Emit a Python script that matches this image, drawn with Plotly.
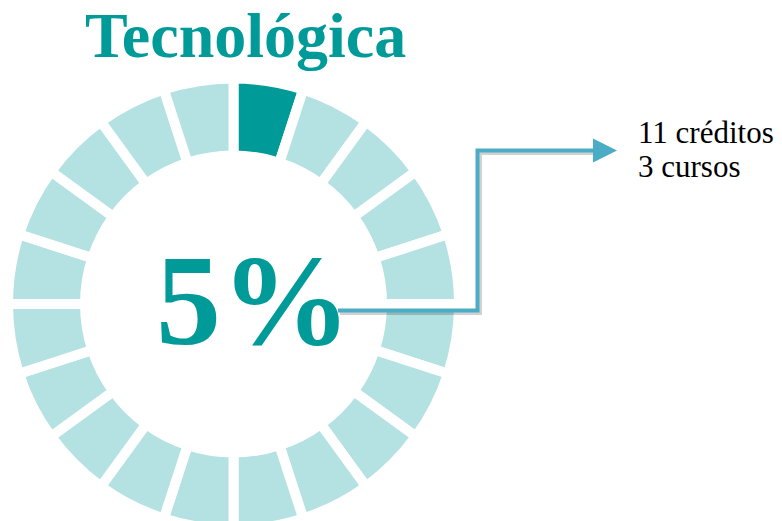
import plotly.graph_objects as go

# ---- data ----
title_text = "Tecnológica"
share_pct = 5            # highlighted share (percent)
n_segments = 20          # ring divided in 5% blocks
credits = 11
courses = 3
label_lines = [f"{credits} créditos", f"{courses} cursos"]

dark = "#009A99"
light = "#B4E1E1"
arrow_col = "#4BACC6"

seg_values = [100 / n_segments] * n_segments
n_dark = round(share_pct / (100 / n_segments))
seg_colors = [dark] * n_dark + [light] * (n_segments - n_dark)

W, H = 782, 530            # page shows top 521 px; ring runs off the bottom
cx, cy = 233.5, 304.0      # ring centre (px from top-left)
r = 225.5

fig = go.Figure()
fig.add_trace(go.Pie(
    values=seg_values,
    sort=False,
    direction="clockwise",
    rotation=0,
    hole=148.5 / r,
    marker=dict(colors=seg_colors, line=dict(color="white", width=10)),
    textinfo="none",
    hoverinfo="skip",
    showlegend=False,
    domain=dict(x=[(cx - r) / W, (cx + r) / W],
                y=[max(0, (H - cy - r) / H), min(1, (H - cy + r) / H)]),
))

# invisible pixel-space axes for decorations
fig.update_xaxes(range=[0, W], visible=False, fixedrange=True)
fig.update_yaxes(range=[H, 0], visible=False, fixedrange=True)

# connector (shadow + line)
fig.add_shape(type="path", path="M 340 313 L 480 313 L 480 153 L 600 153",
              xref="x", yref="y", line=dict(color="rgba(0,0,0,0.18)", width=4))
fig.add_shape(type="path", path="M 338 310.5 L 477.5 310.5 L 477.5 150.5 L 600 150.5",
              xref="x", yref="y", line=dict(color=arrow_col, width=4))
fig.add_annotation(x=617, y=150.5, ax=598, ay=150.5, xref="x", yref="y",
                   axref="x", ayref="y", text="", showarrow=True,
                   arrowhead=2, arrowsize=1.2, arrowwidth=4, arrowcolor=arrow_col)

fig.add_annotation(x=245, y=35, xref="x", yref="y", text=f"<b>{title_text}</b>",
                   showarrow=False, font=dict(family="Liberation Serif", size=64, color=dark))
fig.add_annotation(x=253, y=300, xref="x", yref="y", text=f"<b>{share_pct}%</b>",
                   showarrow=False, font=dict(family="Liberation Serif", size=130, color=dark))
for txt, yy in zip(label_lines, [132, 166]):
    fig.add_annotation(x=636, y=yy, xref="x", yref="y", xanchor="left", align="left",
                       text=txt, showarrow=False,
                       font=dict(family="Liberation Serif", size=31, color="black"))

fig.update_layout(width=W, height=H, margin=dict(l=0, r=0, t=0, b=0),
                  paper_bgcolor="white", plot_bgcolor="white")
fig.write_html("out.html", config={"displayModeBar": False},
               post_script="document.body.style.margin='0';"
                           "document.body.style.overflow='hidden';"
                           "document.documentElement.style.overflow='hidden';")
